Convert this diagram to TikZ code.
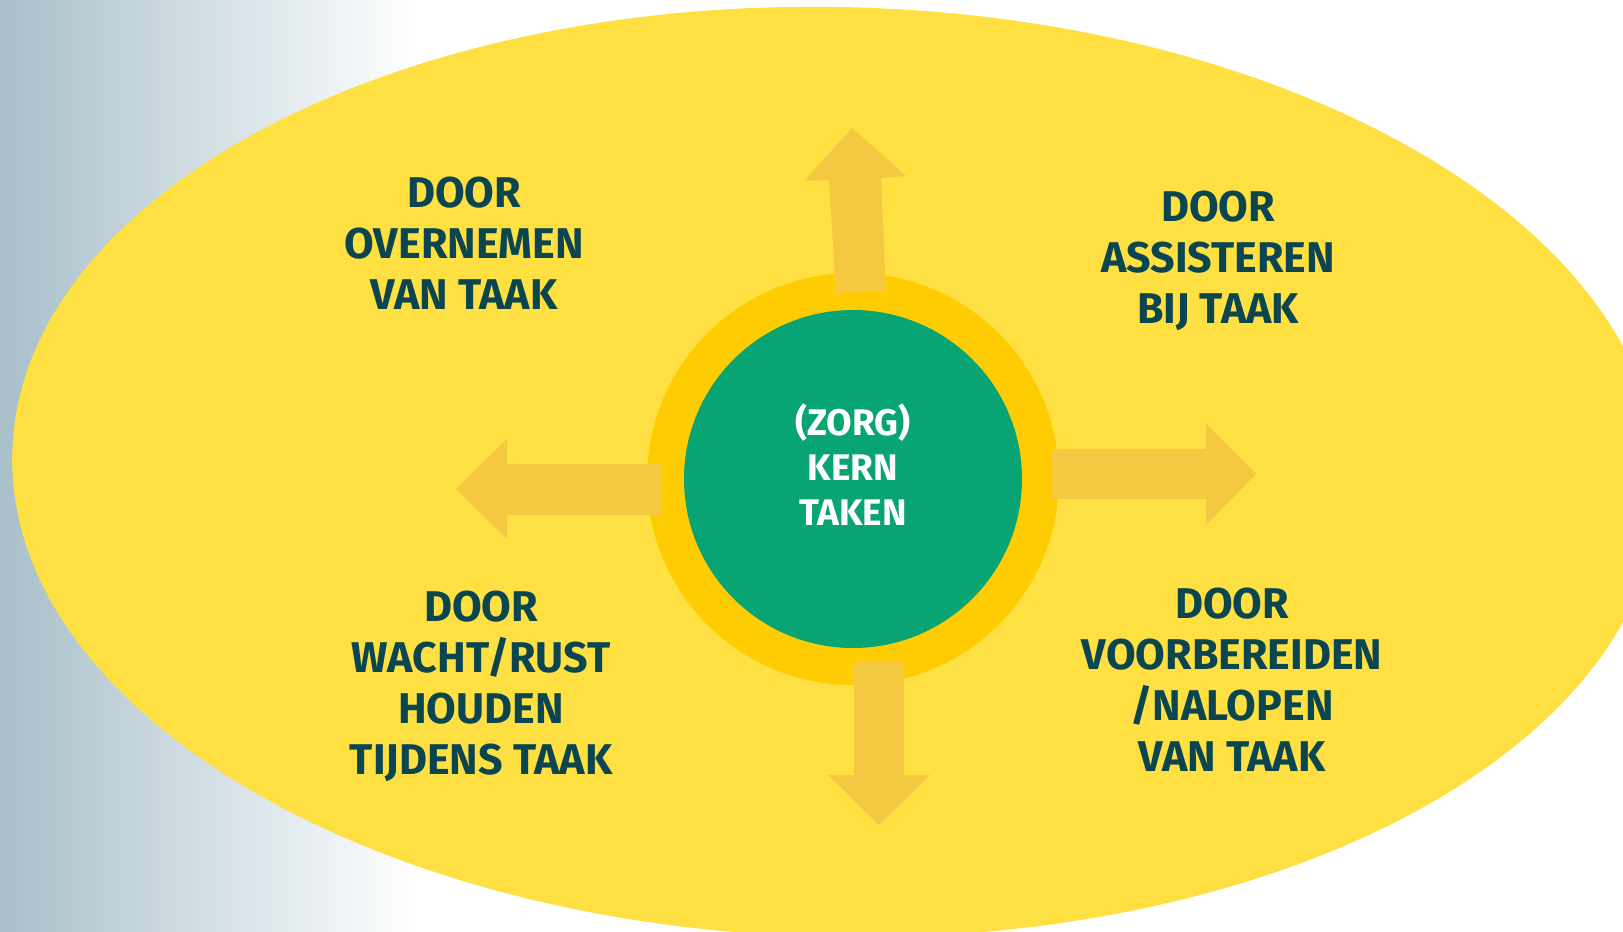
\documentclass[tikz,border=0pt]{standalone}
\usepackage{fontspec}
\setmainfont{Fira Sans}
\definecolor{bgleft}{RGB}{168,191,202}
\definecolor{ellcol}{RGB}{254,224,67}
\definecolor{ringcol}{RGB}{255,204,2}
\definecolor{corecol}{RGB}{9,164,116}
\definecolor{arrcol}{RGB}{244,200,65}
\definecolor{txtcol}{RGB}{10,69,80}
\tikzset{
  lbl/.style={text=txtcol, font=\fontsize{43}{51}\selectfont\bfseries, align=center, inner sep=0pt},
  corelbl/.style={text=white, font=\fontsize{37}{45}\selectfont\bfseries, align=center, inner sep=0pt},
  arrowshape/.style={fill=arrcol, draw=none}
}
\begin{document}
\begin{tikzpicture}[x=1pt,y=-1pt]
\useasboundingbox (0,0) rectangle (1623,932);
\fill[white] (0,0) rectangle (1623,932);
\shade[left color=bgleft, right color=white] (0,0) rectangle (420,932);
% big ellipse
\fill[ellcol, rotate around={-1.3:(836,472)}] (836,472) ellipse [x radius=824pt, y radius=465pt];
% ring and core
\node[circle, fill=ringcol, minimum size=412pt, inner sep=0pt] (ring) at (853,479) {};
% arrows
\fill[arrowshape] (836,293) -- (829,180) -- (804,181) -- (852,128) -- (906,176) -- (881,178) -- (886,291) -- cycle;
\fill[arrowshape] (1052,449) -- (1206,449) -- (1206,424) -- (1256,474) -- (1206,525) -- (1206,499) -- (1052,499) -- cycle;
\fill[arrowshape] (661,464) -- (507,464) -- (507,439) -- (456,489) -- (507,539) -- (507,515) -- (661,515) -- cycle;
\fill[arrowshape] (854,662) -- (904,662) -- (904,775) -- (930,775) -- (879,825) -- (828,775) -- (854,775) -- cycle;
\node[circle, fill=corecol, minimum size=338pt, inner sep=0pt] (core) at (853,479) {};
\node[corelbl] (coretxt) at (853,465) {(ZORG)\\KERN\\TAKEN};
% labels
\node[lbl] (tl) at (464,243) {DOOR\\OVERNEMEN\\VAN TAAK};
\node[lbl] (tr) at (1218,261) {DOOR\\ASSISTEREN\\BIJ TAAK};
\node[lbl] (bl) at (481,686) {DOOR\\WACHT/RUST\\HOUDEN\\TIJDENS TAAK};
\node[lbl] (br) at (1232,680) {DOOR\\VOORBEREIDEN\\/NALOPEN\\VAN TAAK};
\end{tikzpicture}
\end{document}
